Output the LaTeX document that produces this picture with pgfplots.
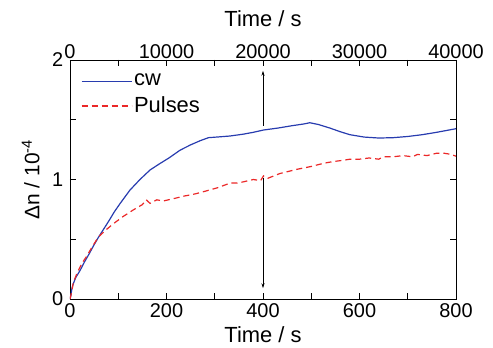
\documentclass[border=0pt]{standalone}
\usepackage{pgfplots}
\pgfplotsset{compat=1.18}
\usetikzlibrary{arrows.meta}
\usepackage{fontspec}
\setmainfont{Liberation Sans}
\definecolor{cwblue}{RGB}{40,60,175}
\definecolor{pred}{RGB}{235,40,40}
\begin{document}
\fontsize{20}{24}\selectfont
\begin{tikzpicture}
\useasboundingbox (-70bp,-49bp) rectangle (423bp,299bp);
\begin{axis}[
  scale only axis, width=386bp, height=239bp,
  xmin=0, xmax=800, ymin=0, ymax=2,
  xtick={0,200,...,800}, minor x tick num=1,
  ytick={0,1,2}, minor y tick num=1,
  xtick pos=both, ytick pos=both,
  tick align=inside,
  major tick length=6bp, minor tick length=6bp,
  axis line style={line width=0.8bp}, every tick/.style={line width=0.8bp,black},
  tick label style={font=\fontsize{20}{24}\selectfont},
  xticklabel style={yshift=-3bp, inner ysep=1bp},
  label style={font=\fontsize{22}{26}\selectfont},
  /pgf/number format/assume math mode=true,
  xlabel={Time / s},
  ylabel={Δn / 10\textsuperscript{-4}},
  xlabel style={at={(axis description cs:0.5,0)}, anchor=base, yshift=-43bp},
  ylabel style={font=\fontsize{21}{25}\selectfont, yshift=-1bp},
  legend style={draw=none, fill=none, at={(0.02,0.96)}, anchor=north west, font=\fontsize{22}{26}\selectfont, row sep=4bp},
  legend cell align=left,
  legend image code/.code={\draw[#1] (0bp,0bp) -- (50bp,0bp);},
]
\addplot[cwblue, line width=1.2bp] coordinates {
(0,0) (2,0.03) (4,0.09) (7,0.13) (12,0.18) (21,0.24) (30,0.31) (40,0.38) (48,0.44) (58,0.51) (69,0.58) (80,0.65) (92,0.73) (104,0.80) (124,0.91) (145,1.00) (166,1.08) (185,1.13) (205,1.18) (228,1.245) (250,1.29) (270,1.325) (287,1.35) (310,1.357) (332,1.364) (360,1.38) (380,1.395) (401,1.414) (430,1.43) (460,1.45) (485,1.465) (497,1.475) (515,1.46) (539,1.43) (560,1.40) (580,1.375) (610,1.355) (640,1.347) (670,1.35) (700,1.36) (730,1.375) (760,1.395) (800,1.425)
};
\addlegendentry{cw}
\addplot[pred, line width=1.2bp, dash pattern=on 6bp off 4bp] coordinates {
(0,0) (3,0.05) (7,0.14) (15,0.22) (25,0.30) (35,0.36) (45,0.43) (59,0.52) (75,0.58) (90,0.63) (110,0.69) (131,0.745) (150,0.79) (158,0.83) (166,0.80) (180,0.83) (193,0.82) (215,0.84) (235,0.86) (260,0.88) (283,0.905) (305,0.93) (332,0.97) (345,0.97) (359,0.98) (380,1.00) (395,0.99) (401,1.03) (410,1.01) (435,1.05) (470,1.085) (501,1.11) (525,1.135) (545,1.15) (565,1.16) (580,1.17) (600,1.17) (620,1.18) (640,1.17) (649,1.19) (670,1.19) (690,1.20) (710,1.19) (720,1.21) (740,1.20) (760,1.22) (775,1.22) (790,1.21) (800,1.195)
};
\addlegendentry{Pulses}
\addplot[black, line width=0.6bp, -{Stealth[length=5bp,width=3bp]}, forget plot] coordinates {(400,1.45) (400,1.91)};
\addplot[black, line width=0.6bp, -{Stealth[length=5bp,width=3bp]}, forget plot] coordinates {(400,1.01) (400,0.09)};
\end{axis}
\begin{axis}[
  scale only axis, width=386bp, height=239bp,
  xmin=0, xmax=40000, ymin=0, ymax=2,
  axis x line*=top, hide y axis,
  xtick={0,10000,...,40000}, minor x tick num=1,
  scaled x ticks=false,
  tick align=inside,
  major tick length=6bp, minor tick length=6bp,
  axis line style={line width=0.8bp}, every tick/.style={line width=0.8bp,black},
  tick label style={font=\fontsize{20}{24}\selectfont},
  xticklabel style={yshift=-6bp},
  label style={font=\fontsize{22}{26}\selectfont},
  /pgf/number format/assume math mode=true,
  /pgf/number format/1000 sep={},
  xlabel={Time / s},
  xlabel style={at={(axis description cs:0.5,1)}, anchor=base, yshift=33bp},
]
\end{axis}
\end{tikzpicture}
\end{document}
